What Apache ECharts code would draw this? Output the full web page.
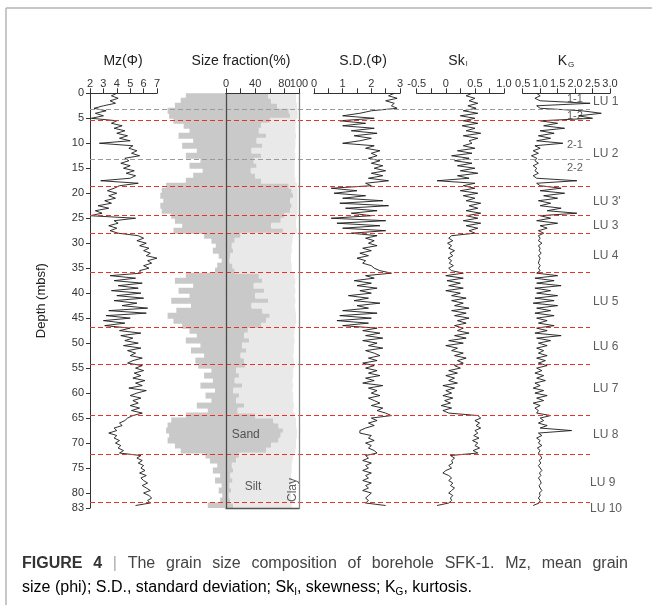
<!DOCTYPE html>
<html>
<head>
<meta charset="utf-8">
<script src="https://cdn.jsdelivr.net/npm/echarts@6/dist/echarts.min.js"></script>
<style>
  html, body { margin: 0; padding: 0; background: #fff; }
  #chart { width: 652px; height: 605px; }
</style>
</head>
<body>
<div id="chart"></div>
<script>
// sample depths (m) for the four parameter curves
var depth = [
  0, 0.5, 1, 1.5, 2, 2.5, 3, 3.5, 4, 4.5,
  5, 5.5, 6, 6.5, 7, 7.5, 8, 8.5, 9, 9.5,
  10, 10.5, 11, 11.5, 12, 12.5, 13, 13.5, 14, 14.5,
  15, 15.5, 16, 16.5, 17, 17.5, 18, 18.5, 19, 19.5,
  20, 20.5, 21, 21.5, 22, 22.5, 23, 23.5, 24, 24.5,
  25, 25.5, 26, 26.5, 27, 27.5, 28, 28.5, 29, 29.5,
  30, 30.5, 31, 31.5, 32, 32.5, 33, 33.5, 34, 34.5,
  35, 35.5, 36, 36.5, 37, 37.5, 38, 38.5, 39, 39.5,
  40, 40.5, 41, 41.5, 42, 42.5, 43, 43.5, 44, 44.5,
  45, 45.5, 46, 46.5, 47, 47.5, 48, 48.5, 49, 49.5,
  50, 50.5, 51, 51.5, 52, 52.5, 53, 53.5, 54, 54.5,
  55, 55.5, 56, 56.5, 57, 57.5, 58, 58.5, 59, 59.5,
  60, 60.5, 61, 61.5, 62, 62.5, 63, 63.5, 64, 64.5,
  65, 65.5, 66, 66.5, 67, 67.5, 68, 68.5, 69, 69.5,
  70, 70.5, 71, 71.5, 72, 72.5, 73, 73.5, 74, 74.5,
  75, 75.5, 76, 76.5, 77, 77.5, 78, 78.5, 79, 79.5,
  80, 80.5, 81, 81.5, 82, 82.5
];

var mz = [
  4.0, 3.6, 4.1, 3.5, 3.9, 3.0, 2.3, 3.2, 2.4, 3.0,
  2.1, 4.0, 3.6, 4.4, 3.8, 4.6, 4.0, 4.8, 4.2, 5.0,
  2.7, 5.2, 4.9, 5.5, 5.1, 5.7, 4.6, 4.9, 4.3, 5.0,
  4.5, 5.3, 4.7, 5.4, 5.0, 2.8, 5.6, 4.2, 3.8, 3.3,
  4.0, 3.4, 3.9, 3.1, 3.6, 2.6, 3.4, 2.4, 2.9, 2.0,
  5.4, 3.8, 4.1, 3.4, 4.0, 3.5, 4.1, 5.6, 6.0, 5.5,
  6.2, 5.7, 6.4, 6.0, 6.5, 6.2, 7.0, 6.3, 6.6, 6.0,
  6.4, 5.7, 5.8, 3.5, 5.4, 3.8, 5.9, 4.1, 5.6, 3.6,
  5.8, 4.0, 6.0, 3.8, 5.5, 4.4, 6.3, 3.4, 6.2, 3.2,
  5.0, 3.0, 4.6, 3.1, 5.0, 4.2, 5.8, 4.3, 5.2, 4.6,
  5.6, 4.5, 5.8, 4.8, 5.4, 5.0, 5.9, 5.2, 4.8, 5.9,
  5.4, 6.0, 5.3, 5.8, 5.2, 6.1, 5.4, 5.9, 4.9, 6.2,
  5.5, 5.0, 5.8, 5.2, 5.6, 5.0, 5.7, 5.1, 5.9, 5.2,
  4.8, 4.6, 4.2, 4.4, 3.8, 4.0, 3.4, 4.0, 3.8, 4.2,
  3.9, 4.3, 4.1, 4.5, 4.2, 5.8, 5.5, 5.9, 5.6, 6.0,
  5.8, 6.1, 5.7, 6.2, 5.8, 6.0, 6.3, 5.9, 6.2, 6.5,
  6.0, 6.4, 6.6, 6.3, 6.5, 5.4
];

var sd = [
  2.8, 2.6, 2.9, 2.5, 2.8, 2.7, 2.9, 2.0, 1.6, 1.0,
  2.1, 0.9, 1.8, 1.0, 2.1, 1.3, 2.2, 1.4, 2.0, 1.6,
  1.0, 2.1, 1.8, 2.3, 2.0, 2.2, 1.9, 2.3, 2.0, 2.4,
  2.1, 2.5, 2.0, 2.4, 1.9, 2.6, 1.8, 2.0, 0.6, 1.5,
  0.7, 1.8, 1.0, 2.4, 0.9, 2.6, 1.1, 2.2, 1.3, 2.0,
  0.6, 2.5, 0.8, 2.3, 1.0, 2.5, 1.3, 2.2, 1.8, 2.1,
  1.9, 2.2, 1.7, 2.0, 1.6, 1.9, 1.5, 1.8, 1.7, 2.0,
  2.1, 2.3, 2.7, 1.8, 2.1, 1.4, 2.0, 1.5, 2.2, 1.6,
  2.0, 1.2, 1.9, 1.4, 2.3, 1.5, 1.9, 1.0, 2.2, 0.9,
  2.0, 0.8, 1.9, 1.0, 2.2, 1.7, 2.3, 1.8, 2.4, 1.7,
  2.2, 1.9, 2.4, 1.8, 2.1, 2.3, 1.9, 2.2, 1.7, 2.1,
  1.8, 2.2, 1.9, 2.3, 1.8, 2.1, 1.7, 2.4, 1.9, 2.2,
  2.0, 2.3, 1.9, 2.1, 2.3, 2.0, 2.4, 2.2, 2.5, 2.7,
  2.0, 2.2, 1.9, 2.1, 1.8, 1.6, 1.6, 2.0, 1.9, 2.1,
  1.8, 2.0, 1.9, 2.1, 2.2, 1.8, 1.9, 1.7, 2.0, 1.8,
  1.9, 1.7, 2.0, 1.8, 1.9, 1.7, 2.0, 1.8, 1.9, 1.7,
  2.0, 1.9, 1.8, 1.9, 1.8, 2.5
];

var sk = [
  0.45, 0.35, 0.5, 0.4, 0.55, 0.38, 0.52, 0.3, 0.55, 0.25,
  0.5, 0.3, 0.55, 0.28, 0.5, 0.35, 0.6, 0.3, 0.55, 0.4,
  0.45, 0.3, 0.5, 0.2, 0.45, 0.1, 0.4, 0.15, 0.45, 0.2,
  0.5, 0.25, 0.55, 0.2, 0.4, -0.15, 0.5, 0.3, 0.5, 0.25,
  0.55, 0.3, 0.5, 0.35, 0.6, 0.4, 0.55, 0.35, 0.6, 0.35,
  0.55, 0.3, 0.6, 0.35, 0.55, 0.4, 0.5, 0.1, 0.05, 0.12,
  0.03, 0.1, 0.05, 0.15, 0.07, 0.12, 0.04, 0.1, 0.06, 0.13,
  0.05, 0.1, 0.3, 0.0, 0.3, 0.02, 0.25, 0.05, 0.3, 0.0,
  0.25, 0.1, 0.35, 0.1, 0.3, 0.15, 0.4, 0.1, 0.35, 0.15,
  0.4, 0.2, 0.35, 0.15, 0.3, 0.2, 0.4, 0.15, 0.35, 0.05,
  0.3, 0.0, 0.2, 0.1, 0.3, 0.15, 0.35, 0.2, 0.3, 0.15,
  0.25, 0.05, 0.2, 0.0, 0.15, 0.05, 0.2, -0.05, 0.15, 0.0,
  0.1, -0.05, 0.12, -0.02, 0.08, -0.08, 0.1, -0.05, 0.05, 0.55,
  0.6, 0.5, 0.58, 0.52, 0.6, 0.5, 0.55, 0.48, 0.57, 0.46,
  0.55, 0.5, 0.58, 0.47, 0.55, 0.08, 0.15, 0.1, 0.12, 0.05,
  0.1, 0.0, -0.05, 0.05, 0.1, 0.05, 0.12, 0.08, 0.15, 0.1,
  0.05, 0.12, 0.08, 0.1, 0.05, -0.15
];

var kg = [
  0.9, 1.0, 0.85, 1.0, 2.43, 0.9, 1.0, 2.2, 2.75, 2.1,
  2.5, 1.0, 1.5, 1.1, 1.7, 1.0, 1.4, 0.95, 1.3, 0.9,
  1.65, 0.85, 1.0, 0.8, 0.95, 0.75, 0.9, 0.85, 0.95, 0.8,
  0.9, 0.85, 0.95, 0.8, 0.9, 2.05, 0.9, 1.0, 1.6, 1.0,
  1.7, 1.1, 1.5, 0.95, 1.3, 1.0, 1.6, 1.2, 2.05, 1.0,
  1.3, 0.9, 1.5, 1.0, 1.2, 0.95, 1.1, 0.95, 1.0, 0.95,
  1.05, 0.95, 1.0, 0.97, 1.03, 0.95, 1.0, 0.97, 0.95, 1.0,
  0.95, 1.0, 0.9, 1.5, 0.85, 1.4, 0.9, 1.6, 0.85, 1.3,
  0.9, 1.5, 0.85, 1.4, 0.8, 1.5, 0.9, 1.3, 0.85, 1.4,
  0.9, 1.2, 0.95, 1.4, 0.9, 1.2, 0.85, 1.6, 0.9, 1.3,
  0.95, 1.2, 0.9, 1.1, 0.95, 1.2, 0.9, 1.15, 0.95, 1.2,
  0.9, 1.05, 0.85, 1.1, 0.9, 1.15, 0.85, 1.0, 0.8, 1.1,
  0.85, 1.2, 0.9, 1.1, 0.8, 1.0, 0.85, 0.95, 0.9, 1.3,
  1.0, 1.1, 0.95, 1.2, 1.0, 1.9, 0.95, 1.05, 0.9, 1.0,
  0.95, 1.05, 0.92, 1.0, 0.95, 1.0, 1.05, 0.97, 1.02, 0.95,
  1.0, 1.05, 0.98, 1.02, 0.95, 1.0, 1.03, 0.97, 1.0, 1.05,
  0.98, 1.0, 0.95, 1.0, 0.97, 0.8
];

// size fraction, 1 m bins (bin centres)
var binDepth = [
  0.5, 1.5, 2.5, 3.5, 4.5, 5.5, 6.5, 7.5, 8.5, 9.5,
  10.5, 11.5, 12.5, 13.5, 14.5, 15.5, 16.5, 17.5, 18.5, 19.5,
  20.5, 21.5, 22.5, 23.5, 24.5, 25.5, 26.5, 27.5, 28.5, 29.5,
  30.5, 31.5, 32.5, 33.5, 34.5, 35.5, 36.5, 37.5, 38.5, 39.5,
  40.5, 41.5, 42.5, 43.5, 44.5, 45.5, 46.5, 47.5, 48.5, 49.5,
  50.5, 51.5, 52.5, 53.5, 54.5, 55.5, 56.5, 57.5, 58.5, 59.5,
  60.5, 61.5, 62.5, 63.5, 64.5, 65.5, 66.5, 67.5, 68.5, 69.5,
  70.5, 71.5, 72.5, 73.5, 74.5, 75.5, 76.5, 77.5, 78.5, 79.5,
  80.5, 81.5, 82.5
];
// mirrored sand envelope drawn left of the 0 line
var sandMirror = [
  -55, -62, -70, -80, -78, -72, -58, -50, -65, -45,
  -60, -40, -55, -35, -50, -32, -45, -55, -82, -88,
  -90, -86, -90, -88, -75, -70, -60, -72, -30, -20,
  -14, -18, -10, -6, -12, -15, -55, -70, -45, -65,
  -50, -75, -48, -68, -80, -72, -60, -50, -40, -55,
  -35, -48, -30, -42, -38, -20, -30, -18, -35, -15,
  -28, -20, -40, -25, -55, -75, -80, -82, -78, -80,
  -70, -62, -28, -22, -12, -18, -8, -15, -6, -10,
  -5, -8, -25
];
var sand = [
  58, 62, 70, 86, 88, 60, 48, 45, 55, 42,
  50, 35, 48, 38, 42, 34, 40, 48, 86, 90,
  92, 88, 90, 88, 80, 75, 62, 78, 20, 12,
  8, 10, 6, 5, 9, 12, 45, 50, 38, 52,
  40, 58, 35, 50, 60, 55, 48, 30, 25, 32,
  22, 28, 20, 25, 26, 14, 18, 12, 22, 10,
  18, 14, 25, 16, 40, 65, 72, 78, 75, 72,
  62, 55, 18, 14, 8, 10, 6, 9, 5, 7,
  4, 6, 10
];
// cumulative sand + silt
var sandSilt = [
  96, 96, 97, 98, 98, 96, 95, 95, 96, 95,
  95, 94, 95, 94, 94, 94, 94, 95, 97, 98,
  98, 98, 98, 98, 97, 96, 96, 97, 92, 91,
  90, 90, 89, 89, 90, 90, 94, 95, 94, 95,
  94, 95, 94, 95, 96, 96, 95, 94, 93, 94,
  93, 93, 92, 93, 93, 92, 92, 91, 92, 91,
  92, 92, 93, 92, 94, 96, 96, 97, 97, 96,
  96, 95, 92, 91, 90, 90, 89, 90, 89, 89,
  89, 89, 90
];

var grayBounds = [3.1, 13.1];
var redBounds = [5.3, 18.7, 24.5, 28.1, 35.9, 46.8, 54.2, 64.4, 72.2, 81.9];
var luNames = ['LU 1', 'LU 2', "LU 3'", 'LU 3', 'LU 4', 'LU 5', 'LU 6', 'LU 7', 'LU 8', 'LU 9', 'LU 10'];
var luDepth = [1.7, 12.1, 21.7, 26.5, 32.5, 41.7, 50.7, 59.1, 68.4, 77.9, 83.2];
var subNames = ['1-1', '1-2', '2-1', '2-2'];
var subDepth = [1.1, 4.5, 10.3, 14.9];

var chart = echarts.init(document.getElementById('chart'));
var FONT = 'Liberation Sans, Arial, sans-serif';
var TOP = 93.3, H = 414.7;

function pairs(vals) {
  return vals.map(function (v, i) { return [v, depth[i]]; });
}
function hiddenY(grid) {
  return { type: 'value', gridIndex: grid, min: 0, max: 83, inverse: true, show: false };
}
function topAxis(grid, min, max, interval, fmt) {
  return {
    type: 'value', gridIndex: grid, position: 'top', min: min, max: max, interval: interval,
    axisLine: { show: true, onZero: false, lineStyle: { color: '#333', width: 1 } },
    axisTick: { show: true, length: 5, lineStyle: { color: '#333' } },
    splitLine: { show: false },
    axisLabel: { color: '#333', fontSize: 11, margin: 4, fontFamily: FONT, formatter: fmt,
      showMinLabel: true, showMaxLabel: true, hideOverlap: false }
  };
}
function curve(xi, vals) {
  return {
    type: 'line', xAxisIndex: xi, yAxisIndex: xi, data: pairs(vals), symbol: 'none', silent: true,
    lineStyle: { color: '#1a1a1a', width: 0.9 }
  };
}
function boxLine(pos, color) {
  return { type: 'value', gridIndex: 2, position: pos, min: 0, max: 83, inverse: true, z: 10,
    axisLine: { show: true, onZero: false, lineStyle: { color: color, width: 1.3 } },
    axisTick: { show: false }, axisLabel: { show: false }, splitLine: { show: false } };
}
function fillBar(data, color) {
  return { type: 'bar', xAxisIndex: 1, yAxisIndex: 1, stack: 'sf', data: data, barWidth: 6,
    itemStyle: { color: color }, silent: true };
}

var markData = [];
grayBounds.forEach(function (d) {
  markData.push([{ coord: [0, d], lineStyle: { color: '#9a9a9a', type: [5, 3], width: 1.2 } }, { coord: [500, d] }]);
});
redBounds.forEach(function (d) {
  markData.push([{ coord: [0, d], lineStyle: { color: '#e8322c', type: [5, 3], width: 1.2 } }, { coord: [500, d] }]);
});

var luData = luNames.map(function (n, i) { return [i >= 9 ? 500 : 503, luDepth[i], n]; });
var subData = subNames.map(function (n, i) { return [477, subDepth[i], n]; });

// justified first caption line
var CAP_FONT = 16, CAP_LEFT = 22, CAP_RIGHT = 628;
var capWords = [
  ['FIGURE', 'b'], ['4', 'b'], ['|', 'p'], ['The', 'n'], ['grain', 'n'], ['size', 'n'], ['composition', 'n'],
  ['of', 'n'], ['borehole', 'n'], ['SFK-1.', 'n'], ['Mz,', 'n'], ['mean', 'n'], ['grain', 'n']
];
var ctx = document.createElement('canvas').getContext('2d');
var widths = capWords.map(function (w) {
  ctx.font = (w[1] === 'b' ? 'bold ' : '') + CAP_FONT + 'px ' + FONT;
  return ctx.measureText(w[0]).width;
});
var gap = (CAP_RIGHT - CAP_LEFT - widths.reduce(function (a, b) { return a + b; }, 0)) / (capWords.length - 1);
var capX = CAP_LEFT;
var capGraphics = capWords.map(function (w, i) {
  var g = { type: 'text', x: capX, y: 564, silent: true, style: {
    text: w[0], fill: w[1] === 'p' ? '#aaa' : (w[1] === 'b' ? '#333' : '#444'),
    font: (w[1] === 'b' ? 'bold ' : '') + CAP_FONT + 'px ' + FONT,
    textVerticalAlign: 'middle', verticalAlign: 'middle' } };
  capX += widths[i] + gap;
  return g;
});

function title(x, text, rich) {
  return { type: 'text', x: x, y: 61, silent: true, style: {
    text: text, font: '14px ' + FONT, fill: '#222', rich: rich,
    textAlign: 'center', textVerticalAlign: 'middle', align: 'center', verticalAlign: 'middle' } };
}

var sizeLabelAxis = topAxis(2, 0, 100, 20, function (v) { return (v === 20 || v === 60 || v === 100) ? '' : v; });
sizeLabelAxis.z = 10;
var sizeMaxAxis = topAxis(2, 0, 100, 100, function (v) { return v === 100 ? '100' : ''; });
sizeMaxAxis.axisLine = { show: false };
sizeMaxAxis.axisTick = { show: false };

var option = {
  backgroundColor: '#fff',
  animation: false,
  textStyle: { fontFamily: FONT },
  grid: [
    { left: 90, width: 67, top: TOP, height: H, outerBoundsMode: 'none' },        // Mz
    { left: 160.3, width: 138.7, top: TOP, height: H, outerBoundsMode: 'none' },  // fill
    { left: 226, width: 73, top: TOP, height: H, outerBoundsMode: 'none' },       // size box
    { left: 314, width: 86, top: TOP, height: H, outerBoundsMode: 'none' },       // S.D.
    { left: 416.7, width: 87.3, top: TOP, height: H, outerBoundsMode: 'none' },   // Sk
    { left: 522.7, width: 87.3, top: TOP, height: H, outerBoundsMode: 'none' },   // KG
    { left: 90, width: 560, top: TOP, height: H, outerBoundsMode: 'none' }        // overlay
  ],
  xAxis: [
    topAxis(0, 2, 7, 1),
    { type: 'value', gridIndex: 1, min: -90, max: 100, show: false },
    sizeLabelAxis,
    { type: 'value', gridIndex: 2, position: 'bottom', min: 0, max: 100, z: 10,
      axisLine: { show: true, onZero: false, lineStyle: { color: '#555', width: 1.3 } },
      axisTick: { show: false }, axisLabel: { show: false }, splitLine: { show: false } },
    topAxis(3, 0, 3, 0.5, function (v) { return v % 1 === 0 ? v : ''; }),
    topAxis(4, -0.5, 1, 0.25, function (v) { return v % 0.5 === 0 ? (v === 0 ? '0' : v.toFixed(1)) : ''; }),
    topAxis(5, 0.5, 3, 0.5, function (v) { return v.toFixed(1); }),
    { type: 'value', gridIndex: 6, min: 0, max: 560, show: false },
    sizeMaxAxis
  ],
  yAxis: [
    { type: 'value', gridIndex: 0, min: 0, max: 83, interval: 5, inverse: true,
      name: 'Depth (mbsf)', nameLocation: 'middle', nameGap: 42, nameRotate: 90,
      nameTextStyle: { color: '#222', fontSize: 13, fontFamily: FONT },
      axisLine: { show: true, onZero: false, lineStyle: { color: '#333', width: 1 } },
      axisTick: { show: true, length: 4, lineStyle: { color: '#333' } },
      axisLabel: { color: '#333', fontSize: 11, margin: 6, fontFamily: FONT, showMaxLabel: true },
      splitLine: { show: false } },
    { type: 'category', gridIndex: 1, data: binDepth, inverse: true, show: false },
    boxLine('left', '#4a4a4a'),
    boxLine('right', '#8a8a8a'),
    hiddenY(3),
    hiddenY(4),
    hiddenY(5),
    hiddenY(6)
  ],
  series: [
    fillBar(sandMirror, '#c9c9c9'),
    fillBar(sand, '#c9c9c9'),
    fillBar(sandSilt.map(function (t, i) { return t - sand[i]; }), '#e9e9e9'),
    curve(0, mz),
    curve(4, sd),
    curve(5, sk),
    curve(6, kg),
    { type: 'scatter', xAxisIndex: 2, yAxisIndex: 2, symbolSize: 0, silent: true, z: 12,
      data: [[27, 68.4, 'Sand', 0], [37, 78.7, 'Silt', 0], [92, 79.4, 'Clay', 90]].map(function (p) {
        return { value: [p[0], p[1]], label: { formatter: p[2], rotate: p[3] } };
      }),
      label: { show: true, position: 'inside', color: '#333', fontSize: 12, fontFamily: FONT } },
    { type: 'line', xAxisIndex: 7, yAxisIndex: 7, data: [], z: 20,
      markLine: { symbol: ['none', 'none'], silent: true, animation: false, label: { show: false }, data: markData } },
    { type: 'scatter', xAxisIndex: 7, yAxisIndex: 7, symbolSize: 0, silent: true, clip: false, data: luData,
      label: { show: true, position: 'right', distance: 0, color: '#333', fontSize: 12, fontFamily: FONT,
        formatter: function (p) { return p.value[2]; } } },
    { type: 'scatter', xAxisIndex: 7, yAxisIndex: 7, symbolSize: 0, silent: true, clip: false, data: subData,
      label: { show: true, position: 'right', distance: 0, color: '#333', fontSize: 11, fontFamily: FONT,
        formatter: function (p) { return p.value[2]; } } }
  ],
  graphic: [
    { type: 'line', shape: { x1: 6, y1: 8, x2: 652, y2: 8 }, style: { stroke: '#b5b5b5', lineWidth: 1.5 }, silent: true },
    { type: 'line', shape: { x1: 6, y1: 8, x2: 6, y2: 605 }, style: { stroke: '#b5b5b5', lineWidth: 1.5 }, silent: true },
    title(123, 'Mz(Φ)'),
    title(241, 'Size fraction(%)'),
    title(363, 'S.D.(Φ)'),
    title(458, '{m|Sk}{s|I}', { m: { fontSize: 14, fontFamily: FONT, color: '#222' }, s: { fontSize: 7, fontFamily: FONT, color: '#222', padding: [6, 0, 0, 1] } }),
    title(566, '{m|K}{s|G}', { m: { fontSize: 14, fontFamily: FONT, color: '#222' }, s: { fontSize: 8, fontFamily: FONT, color: '#222', padding: [7, 0, 0, 1] } }),
    { type: 'text', x: 22, y: 588, silent: true, style: { text: '{n|size (phi); S.D., standard deviation; Sk}{s|I}{n|, skewness; K}{s|G}{n|, kurtosis.}', textVerticalAlign: 'middle', verticalAlign: 'middle',
      rich: { n: { fontSize: 16, fontFamily: FONT, color: '#444' }, s: { fontSize: 10, fontFamily: FONT, color: '#444', padding: [8, 0, 0, 0] } } } }
  ].concat(capGraphics)
};
chart.setOption(option);
</script>
</body>
</html>
